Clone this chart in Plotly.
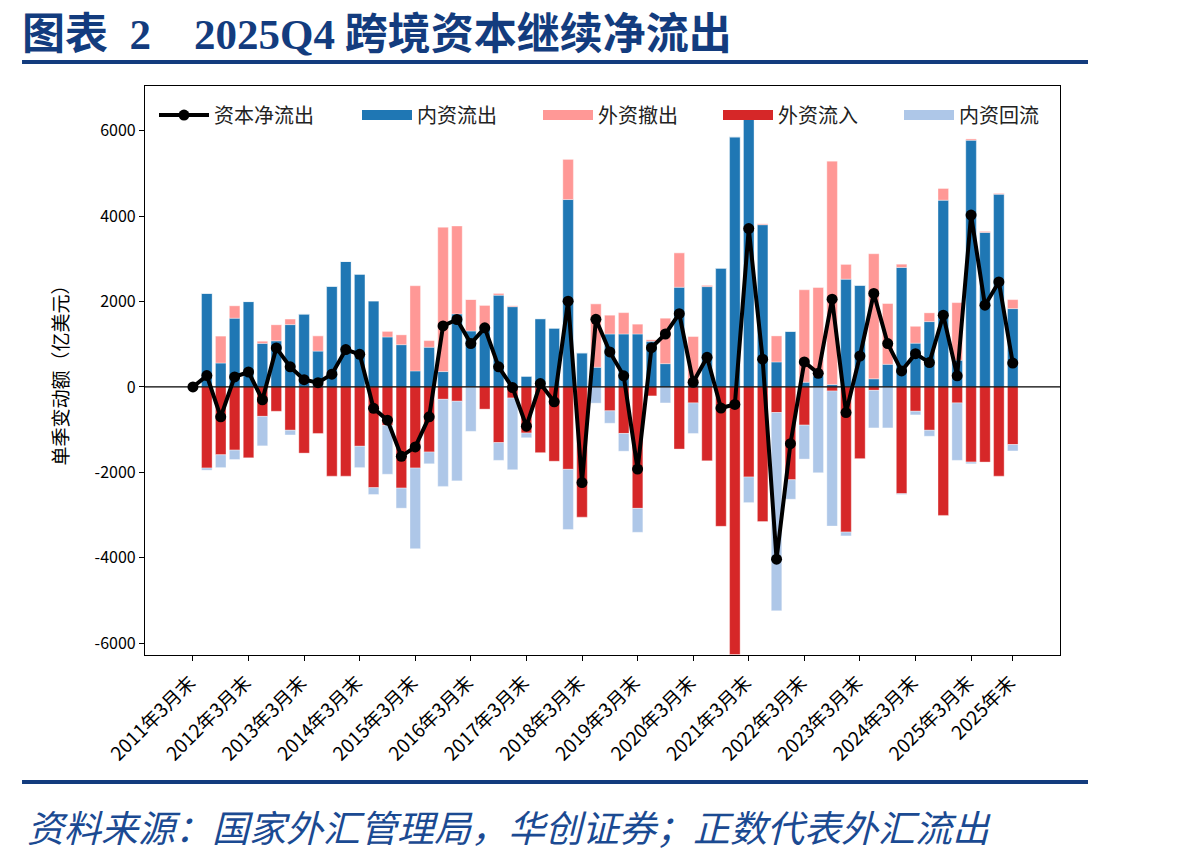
import plotly.graph_objects as go

quarters = [
    "2011Q1", "2011Q2", "2011Q3", "2011Q4", "2012Q1", "2012Q2", "2012Q3", "2012Q4",
    "2013Q1", "2013Q2", "2013Q3", "2013Q4", "2014Q1", "2014Q2", "2014Q3", "2014Q4",
    "2015Q1", "2015Q2", "2015Q3", "2015Q4", "2016Q1", "2016Q2", "2016Q3", "2016Q4",
    "2017Q1", "2017Q2", "2017Q3", "2017Q4", "2018Q1", "2018Q2", "2018Q3", "2018Q4",
    "2019Q1", "2019Q2", "2019Q3", "2019Q4", "2020Q1", "2020Q2", "2020Q3", "2020Q4",
    "2021Q1", "2021Q2", "2021Q3", "2021Q4", "2022Q1", "2022Q2", "2022Q3", "2022Q4",
    "2023Q1", "2023Q2", "2023Q3", "2023Q4", "2024Q1", "2024Q2", "2024Q3", "2024Q4",
    "2025Q1", "2025Q2", "2025Q3", "2025Q4",
]

# 内资流出 (domestic outflow, positive)
domestic_out = [
    0, 2190, 560, 1610, 2000, 1020, 1080, 1460, 1710, 840, 2360, 2940, 2640, 2015, 1170, 990,
    375, 930, 360, 1710, 1310, 1380, 2150, 1880, 250, 1600, 1380, 4390, 800, 460, 1240, 1240,
    1240, 1070, 545, 2335, 100, 2350, 2785, 5860, 6400, 3800, 585, 1300, 110, 260, 55, 2525,
    2385, 190, 530, 2800, 1025, 1530, 4375, 625, 5780, 3620, 4515, 1835,
]
# 外资撤出 (foreign withdrawal, positive)
foreign_out = [
    0, 0, 630, 290, 0, 50, 380, 130, 0, 360, 0, 0, 0, 0, 130, 230,
    1995, 155, 3380, 2060, 740, 535, 40, 20, 0, 0, 0, 940, 0, 1490, 440, 500,
    230, 40, 1070, 810, 1080, 35, 0, 0, 0, 25, 610, 0, 2165, 2075, 5235, 345,
    0, 2930, 1430, 75, 395, 205, 280, 1350, 30, 30, 25, 210,
]
# 外资流入 (foreign inflow, negative)
foreign_in = [
    0, -1900, -1590, -1480, -1660, -690, -570, -1015, -1550, -1090, -2090, -2090, -1390, -2360, -900, -2370,
    -1900, -1525, -290, -335, 0, -520, -1305, -260, -1080, -1540, -1740, -1930, -3050, 0, -560, -1090,
    -2845, -210, 0, -1455, -375, -1730, -3265, -6270, -2110, -3155, -600, -2175, -895, 0, -95, -3400,
    -1680, -80, 0, -2500, -570, -1015, -3010, -375, -1760, -1760, -2090, -1350,
]
# 内资回流 (domestic repatriation, negative)
domestic_back = [
    0, -50, -300, -220, 0, -690, 0, -110, 0, 0, 0, 0, -500, -160, -1145, -470,
    -1890, -275, -2040, -1865, -1040, 0, -415, -1680, -110, 0, 0, -1410, 0, -380, -290, -415,
    -560, 0, -375, 0, -715, 0, 0, 0, -600, 0, -4645, -455, -795, -2010, -3165, -90,
    0, -880, -960, -20, -85, -140, 0, -1345, -40, 0, 0, -150,
]
# 资本净流出 (net capital outflow)
net_outflow = [
    0, 265, -700, 235, 350, -300, 915, 470, 170, 100, 300, 875, 765, -500, -780, -1625,
    -1405, -700, 1430, 1580, 1015, 1385, 470, -15, -920, 80, -350, 2010, -2240, 1585, 820, 260,
    -1925, 920, 1240, 1715, 110, 695, -495, -410, 3710, 650, -4035, -1330, 585, 320, 2055, -600,
    725, 2190, 1015, 375, 780, 570, 1680, 260, 4025, 1915, 2460, 560,
]

tick_quarters = ["2011Q1", "2012Q1", "2013Q1", "2014Q1", "2015Q1", "2016Q1", "2017Q1", "2018Q1",
                 "2019Q1", "2020Q1", "2021Q1", "2022Q1", "2023Q1", "2024Q1", "2025Q1", "2025Q4"]
tick_labels = ["2011年3月末", "2012年3月末", "2013年3月末", "2014年3月末", "2015年3月末", "2016年3月末",
               "2017年3月末", "2018年3月末", "2019年3月末", "2020年3月末", "2021年3月末", "2022年3月末",
               "2023年3月末", "2024年3月末", "2025年3月末", "2025年末"]
y_ticks = [-6000, -4000, -2000, 0, 2000, 4000, 6000]
y_tick_labels = ["-6000", "-4000", "-2000", "0", "2000", "4000", "6000"]

FONT = "Noto Sans CJK SC"
C_BLUE = "#1f77b4"
C_PINK = "#ff9896"
C_RED = "#d62728"
C_LBLUE = "#aec7e8"
NAVY = "#133c7e"

fig = go.Figure()
bar_style = dict(marker_line_width=0.6, marker_line_color="rgba(255,255,255,0.6)", showlegend=False)
fig.add_trace(go.Bar(x=quarters, y=domestic_out, marker_color=C_BLUE, name="内资流出", **bar_style))
fig.add_trace(go.Bar(x=quarters, y=foreign_out, marker_color=C_PINK, name="外资撤出", **bar_style))
fig.add_trace(go.Bar(x=quarters, y=foreign_in, marker_color=C_RED, name="外资流入", **bar_style))
fig.add_trace(go.Bar(x=quarters, y=domestic_back, marker_color=C_LBLUE, name="内资回流", **bar_style))
fig.add_trace(go.Scatter(x=quarters, y=net_outflow, mode="lines+markers", name="资本净流出",
                         line=dict(color="black", width=4), marker=dict(color="black", size=11),
                         legend="legend"))

# legend entries for bars (wide patches), each in its own legend box
legend_names = ["legend2", "legend3", "legend4", "legend5"]
for (nm, col), lg in zip([("内资流出", C_BLUE), ("外资撤出", C_PINK), ("外资流入", C_RED), ("内资回流", C_LBLUE)],
                         legend_names):
    fig.add_trace(go.Scatter(x=[None], y=[None], mode="lines", name=nm,
                             line=dict(color=col, width=10), legend=lg))

PL, PW = 145, 915


def legend_box(px):
    return dict(orientation="h", x=(px - PL) / PW, y=0.949, xanchor="left", yanchor="middle",
                bgcolor="rgba(255,255,255,0)", borderwidth=0, itemwidth=50,
                font=dict(family=FONT, size=20, color="#222222"))


NB = "\u00a0"
fig.update_layout(
    width=1198, height=857,
    margin=dict(l=145, r=138, t=86, b=202),
    paper_bgcolor="white", plot_bgcolor="white",
    barmode="relative", bargap=0.24,
    font=dict(family=FONT, color="black", size=16),
    showlegend=True,
    legend=legend_box(154),
    legend2=legend_box(357),
    legend3=legend_box(538),
    legend4=legend_box(718),
    legend5=legend_box(899),
    xaxis=dict(range=[-3.45, 62.4], showline=True, linecolor="black", linewidth=1.2, mirror=True,
               ticks="outside", ticklen=5, tickcolor="black", showgrid=False, zeroline=False,
               tickmode="array", tickvals=tick_quarters, ticktext=[t + NB for t in tick_labels],
               tickangle=-45, tickfont=dict(family=FONT, size=19)),
    yaxis=dict(range=[-6280, 7050], showline=True, linecolor="black", linewidth=1.2, mirror=True,
               ticks="outside", ticklen=5, tickcolor="black", showgrid=False, zeroline=False,
               tickmode="array", tickvals=y_ticks, ticktext=y_tick_labels,
               tickfont=dict(family=FONT, size=16),
               title=dict(text="单季变动额（亿美元）", font=dict(family=FONT, size=19), standoff=20)),
    shapes=[
        dict(type="line", xref="paper", yref="y", x0=0, x1=1, y0=0, y1=0,
             line=dict(color="black", width=1.2), layer="above"),
        dict(type="line", xref="paper", yref="paper", x0=-0.1344, x1=1.0306, y0=1.0422, y1=1.0422,
             line=dict(color=NAVY, width=4)),
        dict(type="line", xref="paper", yref="paper", x0=-0.1344, x1=1.0306, y0=-0.2232, y1=-0.2232,
             line=dict(color=NAVY, width=4)),
    ],
    annotations=[
        dict(text=("<b>图表<span style='font-family:Liberation Serif'>" + NB + NB + "2</span>　"
                   "<span style='font-family:Liberation Serif'>2025Q4</span> 跨境资本继续净流出</b>"),
             xref="paper", yref="paper",
             x=-0.1366, y=1.098, xanchor="left", yanchor="middle", showarrow=False,
             font=dict(family=FONT, size=43, color=NAVY)),
        dict(text="资料来源：国家外汇管理局，华创证券；正数代表外汇流出", xref="paper", yref="paper",
             x=-0.131, y=-0.3005, xanchor="left", yanchor="middle", showarrow=False,
             font=dict(family=FONT, size=37, color="#1b4a92", style="italic")),
    ],
)

fig.write_html("out.html")
